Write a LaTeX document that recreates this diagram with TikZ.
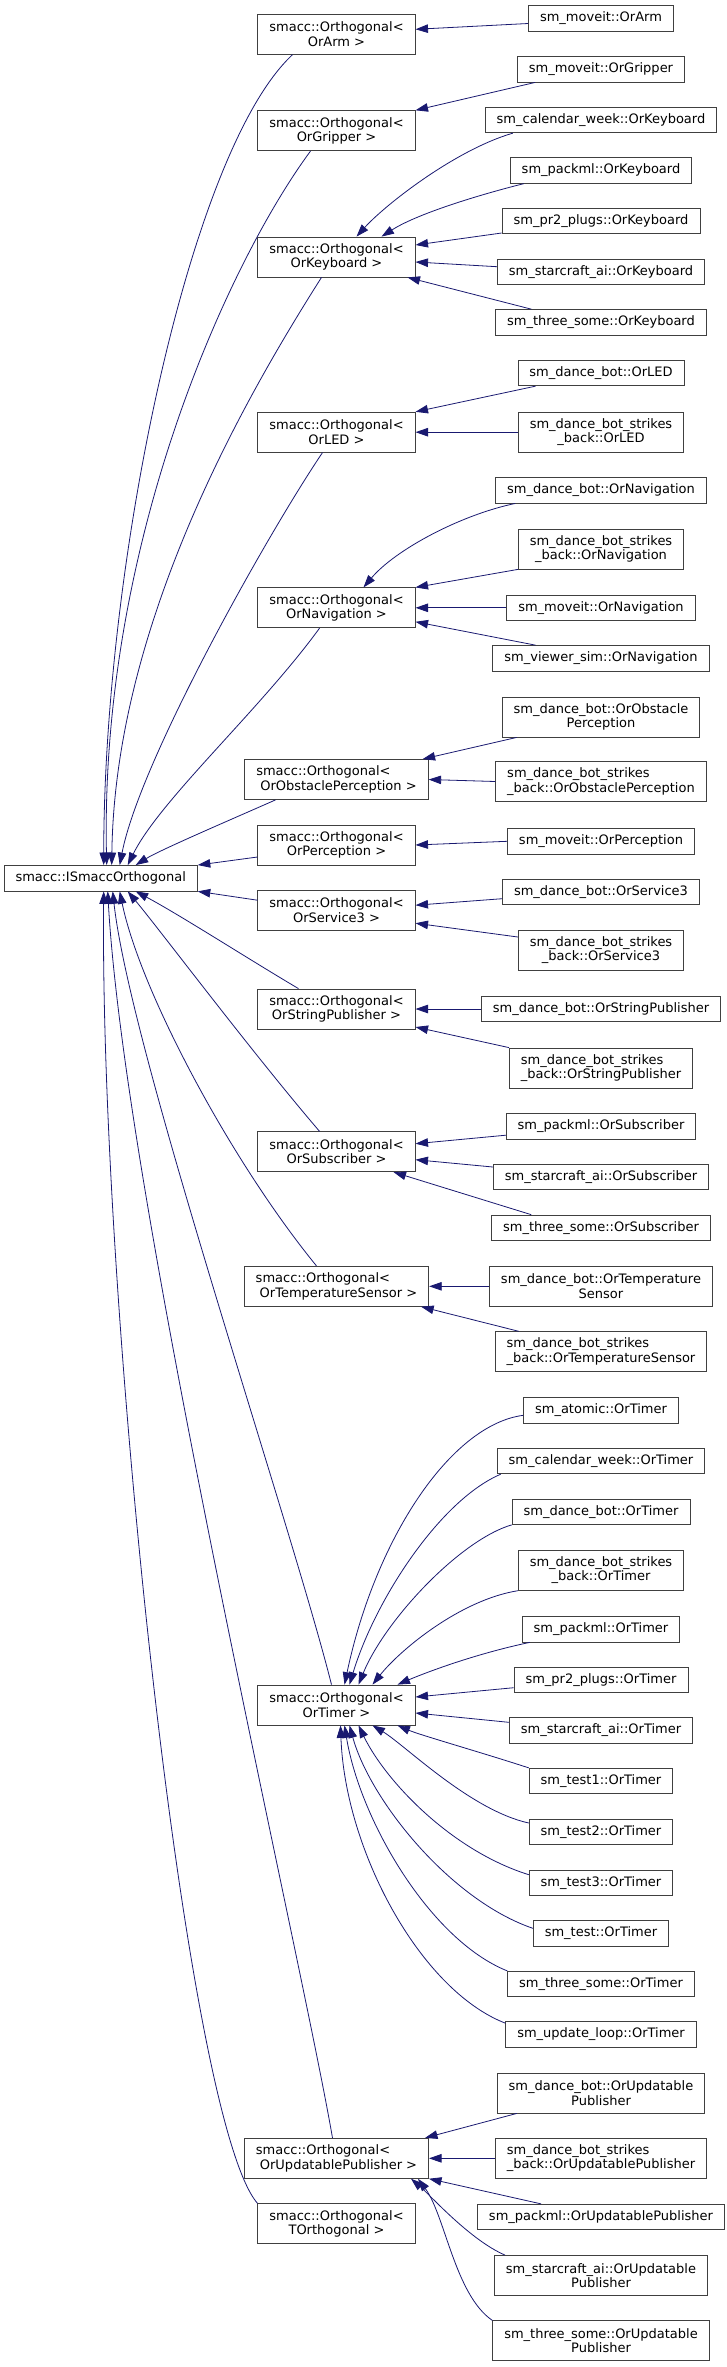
\documentclass[tikz,border=0pt]{standalone}
\usepackage{fontspec}
\newfontfamily\dvsans{DejaVu Sans}
\usepackage{xcolor}
\definecolor{edgeblue}{RGB}{25, 25, 112}
\definecolor{boxgray}{RGB}{64, 64, 64}
\usetikzlibrary{arrows.meta, calc}

\tikzset{
  cls/.style={draw=boxgray, line width=0.8pt, fill=white, inner xsep=11.5pt, inner ysep=2pt,
              minimum height=25.5pt, align=center, font=\dvsans\fontsize{13}{14.5}\selectfont},
  cls2/.style={cls, minimum height=40pt},
  cls2l/.style={cls2, align=left},
  inh/.style={edgeblue, line width=0.8pt, -{Triangle[length=12.5pt, width=8.5pt]}}
}

\begin{document}
\begin{tikzpicture}[x=1pt, y=-1pt]
\useasboundingbox (0,0) rectangle (727,2367);

\node[cls] (iso) at (100.7,878.2) {smacc::ISmaccOrthogonal};

\node[cls2] (oarm) at (336.5,34.3) {smacc::Orthogonal<\\OrArm >};
\node[cls2] (ogrip) at (336.5,130.7) {smacc::Orthogonal<\\OrGripper >};
\node[cls2] (okey) at (336.5,257) {smacc::Orthogonal<\\OrKeyboard >};
\node[cls2] (oled) at (336.5,432.2) {smacc::Orthogonal<\\OrLED >};
\node[cls2] (onav) at (336.5,607.8) {smacc::Orthogonal<\\OrNavigation >};
\node[cls2l] (oobs) at (336.5,779.5) {smacc::Orthogonal<\\\hspace*{4pt}OrObstaclePerception >};
\node[cls2] (operc) at (336.5,845) {smacc::Orthogonal<\\OrPerception >};
\node[cls2] (oserv) at (336.5,910.2) {smacc::Orthogonal<\\OrService3 >};
\node[cls2] (ostr) at (336.5,1009) {smacc::Orthogonal<\\OrStringPublisher >};
\node[cls2] (osub) at (336.5,1151.7) {smacc::Orthogonal<\\OrSubscriber >};
\node[cls2l] (otemp) at (336.5,1286.3) {smacc::Orthogonal<\\\hspace*{4pt}OrTemperatureSensor >};
\node[cls2] (otimer) at (336.5,1705) {smacc::Orthogonal<\\OrTimer >};
\node[cls2l] (oupd) at (336.5,2158.3) {smacc::Orthogonal<\\\hspace*{4pt}OrUpdatablePublisher >};
\node[cls2] (otorth) at (336.5,2223.7) {smacc::Orthogonal<\\TOrthogonal >};

\node[cls] (moveitarm) at (601,18.5) {sm\_moveit::OrArm};
\node[cls] (moveitgrip) at (601,69.3) {sm\_moveit::OrGripper};
\node[cls] (calkey) at (601,120) {sm\_calendar\_week::OrKeyboard};
\node[cls] (packkey) at (601,170.5) {sm\_packml::OrKeyboard};
\node[cls] (pr2key) at (601,221) {sm\_pr2\_plugs::OrKeyboard};
\node[cls] (stkey) at (601,271.7) {sm\_starcraft\_ai::OrKeyboard};
\node[cls] (threekey) at (601,322.3) {sm\_three\_some::OrKeyboard};
\node[cls] (dbled) at (601,373) {sm\_dance\_bot::OrLED};
\node[cls2] (dbsbled) at (601,432.2) {sm\_dance\_bot\_strikes\\\_back::OrLED};
\node[cls] (dbnav) at (601,490.3) {sm\_dance\_bot::OrNavigation};
\node[cls2] (dbsbnav) at (601,549) {sm\_dance\_bot\_strikes\\\_back::OrNavigation};
\node[cls] (moveitnav) at (601,607.8) {sm\_moveit::OrNavigation};
\node[cls] (viewernav) at (601,658.3) {sm\_viewer\_sim::OrNavigation};
\node[cls2] (dbobs) at (601,717) {sm\_dance\_bot::OrObstacle\\Perception};
\node[cls2l] (dbsbobs) at (601,781.5) {sm\_dance\_bot\_strikes\\\_back::OrObstaclePerception};
\node[cls] (moveitperc) at (601,841.3) {sm\_moveit::OrPerception};
\node[cls] (dbserv) at (601,891.7) {sm\_dance\_bot::OrService3};
\node[cls2] (dbsbserv) at (601,950) {sm\_dance\_bot\_strikes\\\_back::OrService3};
\node[cls] (dbstr) at (601,1009) {sm\_dance\_bot::OrStringPublisher};
\node[cls2l] (dbsbstr) at (601,1068) {sm\_dance\_bot\_strikes\\\_back::OrStringPublisher};
\node[cls] (packsub) at (601,1126.2) {sm\_packml::OrSubscriber};
\node[cls] (stsub) at (601,1177) {sm\_starcraft\_ai::OrSubscriber};
\node[cls] (threesub) at (601,1227.8) {sm\_three\_some::OrSubscriber};
\node[cls2] (dbtemp) at (601,1286.3) {sm\_dance\_bot::OrTemperature\\Sensor};
\node[cls2l] (dbsbtemp) at (601,1351.7) {sm\_dance\_bot\_strikes\\\_back::OrTemperatureSensor};
\node[cls] (atomictimer) at (601,1410.3) {sm\_atomic::OrTimer};
\node[cls] (caltimer) at (601,1461) {sm\_calendar\_week::OrTimer};
\node[cls] (dbtimer) at (601,1511.7) {sm\_dance\_bot::OrTimer};
\node[cls2] (dbsbtimer) at (601,1570.3) {sm\_dance\_bot\_strikes\\\_back::OrTimer};
\node[cls] (packtimer) at (601,1629.2) {sm\_packml::OrTimer};
\node[cls] (pr2timer) at (601,1679.7) {sm\_pr2\_plugs::OrTimer};
\node[cls] (sttimer) at (601,1730.3) {sm\_starcraft\_ai::OrTimer};
\node[cls] (test1timer) at (601,1781) {sm\_test1::OrTimer};
\node[cls] (test2timer) at (601,1832) {sm\_test2::OrTimer};
\node[cls] (test3timer) at (601,1882.7) {sm\_test3::OrTimer};
\node[cls] (testtimer) at (601,1933.3) {sm\_test::OrTimer};
\node[cls] (threetimer) at (601,1984) {sm\_three\_some::OrTimer};
\node[cls] (looptimer) at (601,2034.3) {sm\_update\_loop::OrTimer};
\node[cls2] (dbupd) at (601,2093) {sm\_dance\_bot::OrUpdatable\\Publisher};
\node[cls2l] (dbsbupd) at (601,2158.3) {sm\_dance\_bot\_strikes\\\_back::OrUpdatablePublisher};
\node[cls] (packupd) at (601,2217) {sm\_packml::OrUpdatablePublisher};
\node[cls2] (stupd) at (601,2275.5) {sm\_starcraft\_ai::OrUpdatable\\Publisher};
\node[cls2] (threeupd) at (601,2340.8) {sm\_three\_some::OrUpdatable\\Publisher};

\draw[inh] ($(oarm.south)+(-44,0)$) .. controls (190,150) and (104,560) .. ($(iso.north)+(3,0)$);
\draw[inh] ($(ogrip.south)+(-26,0)$) .. controls (230,260) and (100,540) .. ($(iso.north)+(6,0)$);
\draw[inh] ($(okey.south)+(-15,0)$) .. controls (250,390) and (115,620) .. ($(iso.north)+(11,0)$);
\draw[inh] ($(oled.south)+(-14,0)$) .. controls (270,530) and (140,760) .. ($(iso.north)+(19,0)$);
\draw[inh] ($(onav.south)+(-17,0)$) .. controls (260,710) and (160,800) .. ($(iso.north)+(27,0)$);
\draw[inh] ($(oobs.south)+(-61,0)$) .. controls (230,820) and (160,850) .. ($(iso.north)+(35,0)$);
\draw[inh] ($(operc.west)+(0,12)$) -- (iso.north east);
\draw[inh] ($(oserv.west)+(0,-10)$) -- (iso.south east);
\draw[inh] ($(ostr.north)+(-38,0)$) .. controls (250,960) and (180,915) .. ($(iso.south)+(35,0)$);
\draw[inh] ($(osub.north)+(-17,0)$) .. controls (250,1050) and (160,930) .. ($(iso.south)+(27,0)$);
\draw[inh] ($(otemp.north)+(-20,0)$) .. controls (230,1160) and (140,990) .. ($(iso.south)+(19,0)$);
\draw[inh] ($(otimer.north)+(-5,0)$) .. controls (290,1520) and (130,1050) .. ($(iso.south)+(12,0)$);
\draw[inh] ($(oupd.north)+(-4,0)$) .. controls (300,1950) and (125,1200) .. ($(iso.south)+(7,0)$);
\draw[inh] (otorth.north west) .. controls (185,2120) and (100,1300) .. ($(iso.south)+(3,0)$);

\draw[inh] ($(moveitarm.west)+(0,5)$) -- ($(oarm.east)+(0,-5)$);
\draw[inh] ($(moveitgrip.south west)+(18,0)$) -- (ogrip.north east);
\draw[inh] ($(calkey.south west)+(28,0)$) .. controls (455,150) and (385,205) .. ($(okey.north)+(20,0)$);
\draw[inh] ($(packkey.south west)+(14,0)$) .. controls (490,192) and (420,212) .. ($(okey.north east)+(-34,0)$);
\draw[inh] ($(pr2key.west)+(0,12)$) -- ($(okey.east)+(0,-12)$);
\draw[inh] ($(stkey.west)+(0,-5)$) -- ($(okey.east)+(0,5)$);
\draw[inh] ($(threekey.north west)+(36,0)$) -- ($(okey.south east)+(-8,0)$);
\draw[inh] ($(dbled.south west)+(18,0)$) -- (oled.north east);
\draw[inh] (dbsbled.west) -- (oled.east);
\draw[inh] ($(dbnav.south west)+(20,0)$) .. controls (460,515) and (395,550) .. ($(onav.north)+(27,0)$);
\draw[inh] (dbsbnav.south west) -- (onav.north east);
\draw[inh] (moveitnav.west) -- (onav.east);
\draw[inh] ($(viewernav.north west)+(43,0)$) -- ($(onav.east)+(0,14)$);
\draw[inh] ($(dbobs.south west)+(15,0)$) -- ($(oobs.north east)+(-6,0)$);
\draw[inh] (dbsbobs.west) -- (oobs.east);
\draw[inh] (moveitperc.west) -- (operc.east);
\draw[inh] ($(dbserv.west)+(0,7)$) -- ($(oserv.east)+(0,-5)$);
\draw[inh] ($(dbsbserv.west)+(0,-13)$) -- ($(oserv.east)+(0,13)$);
\draw[inh] (dbstr.west) -- (ostr.east);
\draw[inh] (dbsbstr.north west) -- ($(ostr.east)+(0,18)$);
\draw[inh] ($(packsub.west)+(0,9)$) -- ($(osub.east)+(0,-8)$);
\draw[inh] ($(stsub.west)+(0,-10)$) -- ($(osub.east)+(0,8)$);
\draw[inh] ($(threesub.north west)+(40,0)$) -- ($(osub.south east)+(-22,0)$);
\draw[inh] (dbtemp.west) -- (otemp.east);
\draw[inh] ($(dbsbtemp.north west)+(24,0)$) -- ($(otemp.south east)+(-8,0)$);

\draw[inh] ($(atomictimer.west)+(0,5)$) .. controls (450,1425) and (375,1540) .. ($(otimer.north)+(8,0)$);
\draw[inh] ($(caltimer.south west)+(4,0)$) .. controls (440,1500) and (375,1600) .. ($(otimer.north)+(13,0)$);
\draw[inh] (dbtimer.south west) .. controls (460,1540) and (385,1620) .. ($(otimer.north)+(22,0)$);
\draw[inh] (dbsbtimer.south west) .. controls (460,1600) and (400,1650) .. ($(otimer.north)+(36,0)$);
\draw[inh] ($(packtimer.south west)+(8,0)$) .. controls (470,1655) and (420,1675) .. ($(otimer.north east)+(-18,0)$);
\draw[inh] ($(pr2timer.west)+(0,8)$) -- ($(otimer.east)+(0,-8)$);
\draw[inh] ($(sttimer.west)+(0,-8)$) -- ($(otimer.east)+(0,8)$);
\draw[inh] (test1timer.north west) .. controls (480,1752) and (420,1735) .. ($(otimer.south east)+(-18,0)$);
\draw[inh] ($(test2timer.west)+(0,-9)$) .. controls (470,1810) and (405,1745) .. ($(otimer.south)+(36,0)$);
\draw[inh] ($(test3timer.west)+(0,-8)$) .. controls (450,1850) and (385,1780) .. ($(otimer.south)+(22,0)$);
\draw[inh] ($(testtimer.west)+(0,-5)$) .. controls (450,1900) and (370,1800) .. ($(otimer.south)+(13,0)$);
\draw[inh] (threetimer.north west) .. controls (430,1940) and (360,1820) .. ($(otimer.south)+(8,0)$);
\draw[inh] ($(looptimer.north west)+(0,2)$) .. controls (420,1990) and (345,1850) .. ($(otimer.south)+(4,0)$);

\draw[inh] ($(dbupd.south west)+(20,0)$) -- ($(oupd.north east)+(-4,0)$);
\draw[inh] (dbsbupd.west) -- (oupd.east);
\draw[inh] ($(packupd.north west)+(64,0)$) -- (oupd.south east);
\draw[inh] ($(stupd.north west)+(11,0)$) .. controls (470,2240) and (430,2195) .. ($(oupd.south east)+(-18,0)$);
\draw[inh] (threeupd.north west) .. controls (455,2295) and (445,2215) .. ($(oupd.south east)+(-11,0)$);
\end{tikzpicture}
\end{document}
